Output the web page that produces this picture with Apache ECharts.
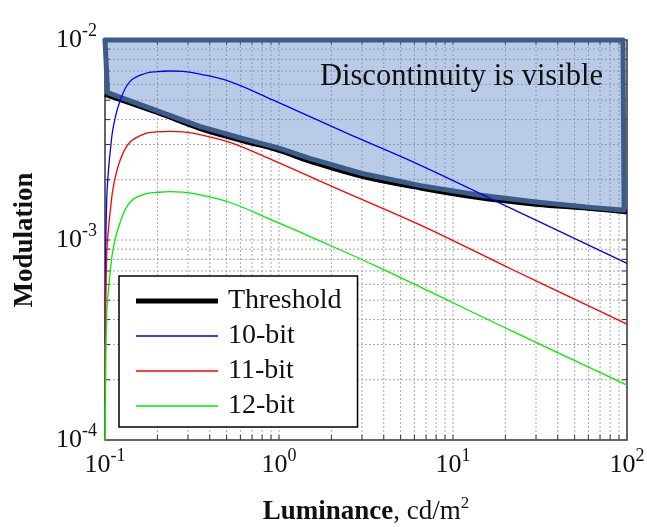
<!DOCTYPE html>
<html>
<head>
<meta charset="utf-8">
<script src="https://cdn.jsdelivr.net/npm/echarts@6/dist/echarts.min.js"></script>
<style>
html, body { margin: 0; padding: 0; background: #fff; }
#chart { width: 647px; height: 527px; }
</style>
</head>
<body>
<div id="chart"></div>
<script>
// values: [luminance cd/m2, modulation]
var thresholdData = [[0.1, 5.35e-3], [0.2, 4.34e-3], [0.35, 3.62e-3], [0.6, 3.16e-3], [1, 2.81e-3],
    [1.5, 2.48e-3], [3, 2.08e-3], [6.5, 1.82e-3], [14, 1.63e-3], [30, 1.51e-3], [60, 1.44e-3], [100, 1.38e-3]];
var bit10Data = [[0.1003, 3.0e-4], [0.1008, 7.5e-4], [0.1023, 1.6e-3], [0.105, 2.3e-3], [0.108, 2.95e-3],
    [0.1116, 3.68e-3], [0.122, 4.95e-3], [0.139, 6.19e-3], [0.17, 6.8e-3], [0.2, 6.95e-3], [0.237, 7.0e-3],
    [0.28, 6.97e-3], [0.352, 6.76e-3], [0.523, 6.19e-3], [0.927, 5.0e-3], [2.45, 3.42e-3], [6.46, 2.37e-3],
    [18.6, 1.53e-3], [100, 7.64e-4]];
var bit11Data = [[0.1003, 1.5e-4], [0.1008, 3.7e-4], [0.1023, 8.5e-4], [0.105, 1.17e-3], [0.108, 1.48e-3],
    [0.1116, 1.84e-3], [0.122, 2.5e-3], [0.139, 3.08e-3], [0.17, 3.4e-3], [0.2, 3.47e-3], [0.237, 3.49e-3],
    [0.28, 3.47e-3], [0.352, 3.36e-3], [0.523, 3.08e-3], [0.927, 2.5e-3], [2.45, 1.72e-3], [6.46, 1.19e-3],
    [22.2, 7.08e-4], [100, 3.8e-4]];
var bit12Data = [[0.1003, 0.8e-4], [0.1008, 1.9e-4], [0.1023, 4.3e-4], [0.105, 5.8e-4], [0.108, 7.4e-4],
    [0.1116, 9.1e-4], [0.122, 1.22e-3], [0.139, 1.54e-3], [0.17, 1.7e-3], [0.2, 1.73e-3], [0.237, 1.745e-3],
    [0.28, 1.735e-3], [0.352, 1.68e-3], [0.523, 1.54e-3], [0.927, 1.25e-3], [1.51, 1.04e-3], [3.8, 7.25e-4],
    [22.2, 3.48e-4], [100, 1.88e-4]];
// shaded "visible" region outline
var regionData = [[0.1, 1e-2], [94.8, 1e-2], [96.2, 1.41e-3], [60, 1.46e-3], [30, 1.55e-3], [14, 1.68e-3],
    [6.5, 1.87e-3], [3, 2.15e-3], [1.5, 2.56e-3], [1, 2.88e-3], [0.6, 3.24e-3], [0.35, 3.7e-3],
    [0.2, 4.42e-3], [0.1035, 5.45e-3]];
// grid / tick positions
var xGridVals = [0.2, 0.3, 0.4, 0.5, 0.6, 0.7, 0.8, 0.9, 1, 2, 3, 4, 5, 6, 7, 8, 9, 10,
    20, 30, 40, 50, 60, 70, 80, 90];
var yGridVals = [2e-4, 3e-4, 4e-4, 5e-4, 6e-4, 7e-4, 8e-4, 9e-4, 1e-3,
    2e-3, 3e-3, 4e-3, 5e-3, 6e-3, 7e-3, 8e-3, 9e-3];
var xMin = 0.1, xMax = 100, yMin = 1e-4, yMax = 1e-2;

var serif = 'Liberation Serif';
var chart = echarts.init(document.getElementById('chart'));

function powLabel(v) {
    var e = Math.round(Math.log10(v));
    return '{b|10}{s|' + e + '}';
}
var powRich = {
    b: { fontFamily: serif, fontSize: 26, lineHeight: 26, color: '#111' },
    s: { fontFamily: serif, fontSize: 18, lineHeight: 18, padding: [0, 0, 18, 0], color: '#111' }
};

function gridRender(isX) {
    return function (params, api) {
        var v = api.value(isX ? 0 : 1);
        var p1 = isX ? api.coord([v, yMin]) : api.coord([xMin, v]);
        var p2 = isX ? api.coord([v, yMax]) : api.coord([xMax, v]);
        var tick = { stroke: '#333', lineWidth: 1 };
        var kids = [{
            type: 'line',
            shape: { x1: p1[0], y1: p1[1], x2: p2[0], y2: p2[1] },
            style: { stroke: '#a8a8a8', lineWidth: 1, lineDash: [2, 2] }
        }];
        if (isX) {
            kids.push({ type: 'line', shape: { x1: p1[0], y1: p1[1], x2: p1[0], y2: p1[1] - 5 }, style: tick });
            kids.push({ type: 'line', shape: { x1: p2[0], y1: p2[1], x2: p2[0], y2: p2[1] + 5 }, style: tick });
        } else {
            kids.push({ type: 'line', shape: { x1: p1[0], y1: p1[1], x2: p1[0] + 5, y2: p1[1] }, style: tick });
            kids.push({ type: 'line', shape: { x1: p2[0], y1: p2[1], x2: p2[0] - 5, y2: p2[1] }, style: tick });
        }
        return { type: 'group', children: kids };
    };
}

function curve(name, data, color, width, z) {
    return {
        name: name, type: 'line', data: data, symbol: 'none', z: z,
        smooth: 0.4,
        lineStyle: { color: color, width: width }, itemStyle: { color: color }
    };
}

var option = {
    backgroundColor: '#fff',
    animation: false,
    grid: {
        left: 105, right: 20, top: 40, bottom: 87,
        outerBoundsMode: 'none', containLabel: false,
        show: true, borderColor: '#333', borderWidth: 1.5, backgroundColor: 'transparent'
    },
    legend: {
        orient: 'vertical',
        left: 119, top: 276,
        data: [
            { name: 'Threshold', icon: 'path://M0,0H82V5H0Z' },
            { name: '10-bit', icon: 'path://M0,0H82V1.4H0Z' },
            { name: '11-bit', icon: 'path://M0,0H82V1.4H0Z' },
            { name: '12-bit', icon: 'path://M0,0H82V1.4H0Z' }
        ],
        itemWidth: 82, itemHeight: 14, itemGap: 7,
        padding: [11, 16, 7, 17],
        backgroundColor: '#fff', borderColor: '#000', borderWidth: 1.5,
        textStyle: { fontFamily: serif, fontSize: 28, color: '#111', padding: [0, 0, 0, 5] }
    },
    graphic: [{
        type: 'text', left: 320, top: 61, z: 100,
        style: { text: 'Discontinuity is visible', font: '30.5px "Liberation Serif"', fill: '#111' }
    }],
    xAxis: {
        type: 'log', logBase: 10, min: xMin, max: xMax, splitNumber: 3,
        name: '{nb|Luminance}{n|, cd/m}{ns|2}', nameLocation: 'middle', nameGap: 57,
        nameTextStyle: {
            rich: {
                nb: { fontFamily: serif, fontSize: 27, fontWeight: 'bold', lineHeight: 30, color: '#111' },
                n: { fontFamily: serif, fontSize: 27, lineHeight: 30, color: '#111' },
                ns: { fontFamily: serif, fontSize: 17, lineHeight: 17, padding: [0, 0, 16, 0], color: '#111' }
            }
        },
        axisLine: { show: false }, axisTick: { show: false }, splitLine: { show: false },
        axisLabel: { margin: 12, formatter: powLabel, rich: powRich }
    },
    yAxis: {
        type: 'log', logBase: 10, min: yMin, max: yMax, splitNumber: 2,
        name: 'Modulation', nameLocation: 'middle', nameGap: 66, nameRotate: 90,
        nameTextStyle: { fontFamily: serif, fontSize: 27, fontWeight: 'bold', color: '#111' },
        axisLine: { show: false }, axisTick: { show: false }, splitLine: { show: false },
        axisLabel: { margin: 8, formatter: powLabel, rich: powRich }
    },
    series: [{
        type: 'custom', silent: true, z: 1,
        data: xGridVals.map(function (v) { return [v, 1e-3]; }),
        renderItem: gridRender(true)
    }, {
        type: 'custom', silent: true, z: 1,
        data: yGridVals.map(function (v) { return [1, v]; }),
        renderItem: gridRender(false)
    },
    curve('Threshold', thresholdData, '#000', 5, 3),
    {
        type: 'custom', silent: true, z: 4,
        data: [regionData[0]],
        renderItem: function (params, api) {
            var pts = regionData.map(function (p) { return api.coord(p); });
            return {
                type: 'polygon',
                shape: { points: pts },
                style: { fill: 'rgba(100,140,200,0.45)', stroke: '#3b5b88', lineWidth: 5, lineJoin: 'round' }
            };
        }
    },
    curve('10-bit', bit10Data, '#0000ff', 1.3, 5),
    curve('11-bit', bit11Data, '#ff0000', 1.3, 5),
    curve('12-bit', bit12Data, '#00ee00', 1.3, 5)
    ]
};
chart.setOption(option);
</script>
</body>
</html>
